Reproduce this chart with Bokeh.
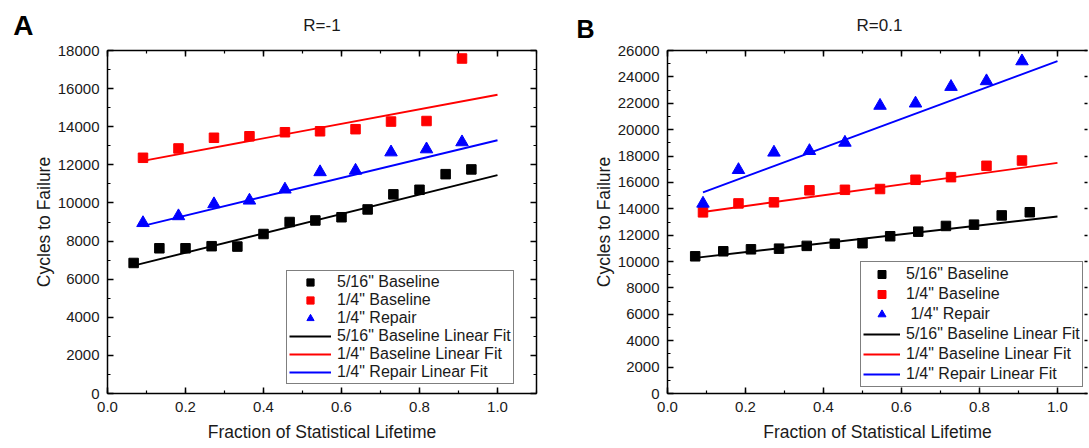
from bokeh.plotting import figure
from bokeh.models import (Range1d, LinearAxis, Legend, LegendItem, FixedTicker,
                          SingleIntervalTicker, NumeralTickFormatter)
from bokeh.layouts import row, column
from bokeh.core.properties import value
from bokeh.embed import file_html
from bokeh.resources import INLINE

FONT = "Liberation Sans"

# ---------------- data: panel A (R=-1) ----------------
a_x_516 = [0.067, 0.133, 0.2, 0.267, 0.333, 0.4, 0.467, 0.533, 0.6, 0.667, 0.733, 0.8, 0.867, 0.933]
a_y_516 = [6850, 7620, 7620, 7730, 7710, 8370, 9000, 9080, 9250, 9660, 10450, 10690, 11510, 11760]
a_x_14 = [0.091, 0.182, 0.273, 0.364, 0.455, 0.545, 0.636, 0.727, 0.818, 0.909]
a_y_14base = [12370, 12860, 13420, 13500, 13710, 13760, 13870, 14270, 14300, 17580]
a_y_14rep = [8950, 9310, 9940, 10130, 10710, 11620, 11700, 12660, 12820, 13190]
# linear fits (start/end)
a_fit_x_516 = [0.067, 1.0]
a_fit_y_516 = [6710, 11460]
a_fit_x_14 = [0.091, 1.0]
a_fit_y_14base = [12210, 15680]
a_fit_y_14rep = [8800, 13290]

# ---------------- data: panel B (R=0.1) ----------------
b_x_516 = [0.071, 0.143, 0.214, 0.286, 0.357, 0.429, 0.5, 0.571, 0.643, 0.714, 0.786, 0.857, 0.929]
b_y_516 = [10400, 10780, 10930, 10980, 11190, 11360, 11390, 11920, 12270, 12700, 12800, 13500, 13740]
b_x_14 = [0.091, 0.182, 0.273, 0.364, 0.455, 0.545, 0.636, 0.727, 0.818, 0.909]
b_y_14base = [13730, 14410, 14490, 15400, 15440, 15500, 16200, 16400, 17260, 17660]
b_y_14rep = [14400, 16950, 18270, 18390, 19020, 21820, 21990, 23250, 23680, 25190]
b_fit_x_516 = [0.071, 1.0]
b_fit_y_516 = [10280, 13420]
b_fit_x_14 = [0.091, 1.0]
b_fit_y_14base = [13760, 17480]
b_fit_y_14rep = [15240, 25190]

labels_a = ['5/16" Baseline', '1/4" Baseline', '1/4" Repair',
            '5/16" Baseline Linear Fit', '1/4" Baseline Linear Fit', '1/4" Repair Linear Fit']
labels_b = ['5/16" Baseline', '1/4" Baseline', '\u00a01/4" Repair',
            '5/16" Baseline Linear Fit', '1/4" Baseline Linear Fit', '1/4" Repair Linear Fit']

x_label = "Fraction of Statistical Lifetime"
y_label = "Cycles to Failure"

HEAD_H = 42


def style_axis(ax, interval, fmt, show_labels=True, line=True, minor=True, tick_in=6):
    ax.ticker = SingleIntervalTicker(interval=interval, num_minor_ticks=2 if minor else 0)
    ax.formatter = NumeralTickFormatter(format=fmt)
    ax.major_tick_in = tick_in
    ax.major_tick_out = 0
    ax.minor_tick_in = 3 if minor else 0
    ax.minor_tick_out = 0
    ax.axis_line_width = 1.5
    ax.axis_line_color = "black" if line else None
    ax.major_tick_line_width = 1.5
    ax.minor_tick_line_width = 1.2
    ax.major_tick_line_color = "black"
    ax.minor_tick_line_color = "black" if minor else None
    if show_labels:
        ax.major_label_text_font = FONT
        ax.major_label_text_font_size = "15px"
        ax.major_label_text_color = "#1a1a1a"
        ax.major_label_standoff = 8
    else:
        ax.major_label_text_font_size = "1px"
        ax.major_label_text_color = None
        ax.major_label_standoff = 0
        ax.axis_label = None


def make_header(fw, left_border, right_border, letter, letter_size, letter_standoff,
                letter_y, title, title_x, title_y):
    # header strip: frame aligned with the panel's frame; the panel letter is drawn
    # as the (only) tick label of an invisible left axis so it can sit left of the frame
    h = figure(frame_width=fw, frame_height=HEAD_H, min_border_left=left_border,
               min_border_right=right_border, min_border_top=0, min_border_bottom=0,
               x_range=Range1d(0, fw), y_range=Range1d(0, HEAD_H),
               x_axis_type=None, toolbar_location=None, output_backend="svg")
    h.outline_line_color = None
    h.grid.visible = False
    ya = h.yaxis[0]
    ya.ticker = FixedTicker(ticks=[HEAD_H - letter_y])
    ya.major_label_overrides = {HEAD_H - letter_y: letter}
    ya.axis_line_color = None
    ya.major_tick_line_color = None
    ya.minor_tick_line_color = None
    ya.major_tick_in = 0
    ya.major_tick_out = 0
    ya.major_label_standoff = letter_standoff
    ya.major_label_text_font = FONT
    ya.major_label_text_font_size = letter_size
    ya.major_label_text_font_style = "bold"
    ya.major_label_text_color = "black"
    h.text(x=[title_x], y=[HEAD_H - title_y], text=[title], text_font=value(FONT),
           text_font_size="17px", text_baseline="middle", text_align="center",
           text_color="#1a1a1a")
    return h


def make_panel(xs, ys, fits, fit_xs, x_end, y_end, y_int, labels, fw, left_border,
               right_border, leg_loc, leg_glyph_w, leg_h, full_frame):
    p = figure(frame_width=fw, frame_height=343, min_border_left=left_border,
               min_border_right=right_border, min_border_top=50 - HEAD_H, min_border_bottom=55,
               x_range=Range1d(0, x_end), y_range=Range1d(0, y_end),
               toolbar_location=None, output_backend="svg")
    p.grid.visible = False
    p.background_fill_color = "white"
    p.border_fill_color = "white"
    p.outline_line_color = None

    xa = p.xaxis[0]
    style_axis(xa, 0.2, "0.0")
    xa.axis_label = x_label
    xa.axis_label_text_font = FONT
    xa.axis_label_text_font_size = "17.5px"
    xa.axis_label_text_font_style = "normal"
    xa.axis_label_text_color = "#1a1a1a"
    xa.axis_label_standoff = 7

    ya = p.yaxis[0]
    style_axis(ya, y_int, "0")
    ya.axis_label = y_label
    ya.axis_label_text_font = FONT
    ya.axis_label_text_font_size = "17.5px"
    ya.axis_label_text_font_style = "normal"
    ya.axis_label_text_color = "#1a1a1a"
    ya.axis_label_standoff = 1

    top = LinearAxis()
    style_axis(top, 0.2, "0.0", show_labels=False)
    p.add_layout(top, "above")
    right = LinearAxis()
    if full_frame:
        style_axis(right, y_int, "0", show_labels=False)
    else:
        style_axis(right, y_int, "0", show_labels=False, line=False, minor=False, tick_in=3)
    p.add_layout(right, "right")

    colors = ["black", "red", "blue"]
    markers = ["square", "square", "triangle"]
    sizes = [9.5, 9.5, 12.5]
    rs = []
    for (x, y, c, m, s) in zip(xs, ys, colors, markers, sizes):
        rs.append(p.scatter(x, y, marker=m, size=s, color=c))
    for (fx, fy, c) in zip(fit_xs, fits, colors):
        rs.append(p.line(fx, fy, line_color=c, line_width=1.9))

    leg = Legend(items=[LegendItem(label=l, renderers=[r]) for l, r in zip(labels, rs)],
                 location=leg_loc, orientation="vertical")
    leg.label_text_font = FONT
    leg.label_text_font_size = "16px"
    leg.label_text_color = "#1a1a1a"
    leg.glyph_width = leg_glyph_w
    leg.glyph_height = leg_h
    leg.label_height = leg_h
    leg.spacing = 0
    leg.padding = 2
    leg.margin = 0
    leg.label_standoff = 6
    leg.border_line_color = "black"
    leg.border_line_width = 1.5
    leg.background_fill_color = "white"
    leg.background_fill_alpha = 1.0
    p.add_layout(leg, "center")
    return p


ha = make_header(429, 107, 9, "A", "28px", 74, 25, "R=-1", 214.5, 25)
pa = make_panel([a_x_516, a_x_14, a_x_14], [a_y_516, a_y_14base, a_y_14rep],
                [a_fit_y_516, a_fit_y_14base, a_fit_y_14rep], [a_fit_x_516, a_fit_x_14, a_fit_x_14],
                1.1, 18000, 2000, labels_a, 429, 107, 9, (179, 9), 42, 18, True)

hb = make_header(420, 122, 2, "B", "25px", 73, 28, "R=0.1", 212, 25)
pb = make_panel([b_x_516, b_x_14, b_x_14], [b_y_516, b_y_14base, b_y_14rep],
                [b_fit_y_516, b_fit_y_14base, b_fit_y_14rep], [b_fit_x_516, b_fit_x_14, b_fit_x_14],
                1.077, 26000, 2000, labels_b, 420, 122, 2, (193, 6), 37, 20, False)

layout = row(column(ha, pa, spacing=0), column(hb, pb, spacing=0), spacing=0)
open("out.html", "w").write(file_html(layout, INLINE))
